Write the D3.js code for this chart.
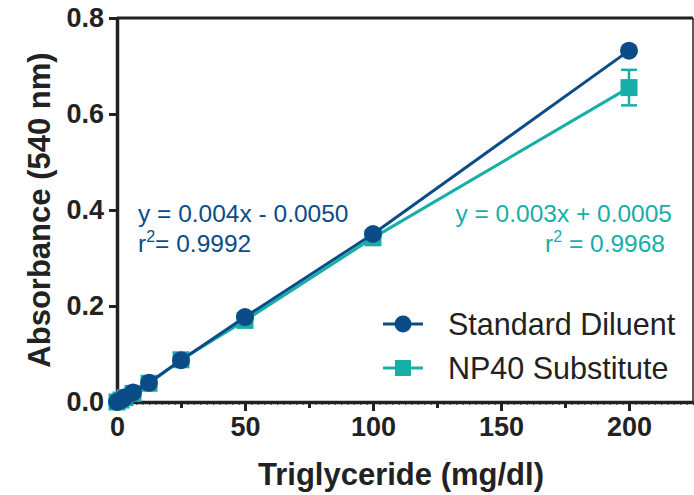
<!DOCTYPE html>
<html>
<head>
<meta charset="utf-8">
<script src="https://cdn.jsdelivr.net/npm/d3@7"></script>
<style>
  body { margin: 0; background: #fff; }
  text { font-family: "Liberation Sans", Arial, sans-serif; }
</style>
</head>
<body>
<div id="chart"></div>
<script>
"use strict";

// Data
const concentrations = [0, 1.5625, 3.125, 6.25, 12.5, 25, 50, 100, 200];
const standard_values = [0.0, 0.004, 0.01, 0.02, 0.04, 0.087, 0.177, 0.35, 0.732];
const np40_values = [0.0, 0.004, 0.009, 0.018, 0.039, 0.088, 0.170, 0.342, 0.655];
const np40_errors = [0, 0, 0, 0, 0, 0, 0.003, 0.004, 0.037];
const x_ticks = [0, 50, 100, 150, 200];
const y_ticks = [0.0, 0.2, 0.4, 0.6, 0.8];
const series_names = ["Standard Diluent", "NP40 Substitute"];

const width = 694, height = 495;
const margins = {top: 18, right: 1, bottom: 93, left: 117};
const plot_width = width - margins.left - margins.right;
const plot_height = height - margins.top - margins.bottom;

const dark = "#0b4c88";
const teal = "#16afa7";
const ink = "#222";

const x_scale = d3.scaleLinear().domain([0, 225]).range([0, plot_width]);
const y_scale = d3.scaleLinear().domain([0, 0.8]).range([plot_height, 0]);

const svg = d3.select("#chart").append("svg")
    .attr("width", width)
    .attr("height", height);

const g = svg.append("g")
    .attr("transform", "translate(" + margins.left + "," + margins.top + ")");

// Frame top and right
g.append("line").attr("x1", 0).attr("x2", plot_width).attr("y1", 0).attr("y2", 0)
    .attr("stroke", ink).attr("stroke-width", 3);
g.append("line").attr("x1", plot_width).attr("x2", plot_width).attr("y1", 0).attr("y2", plot_height)
    .attr("stroke", ink).attr("stroke-width", 1.5);

// Minor x ticks
const minor = d3.range(0, 226, 2.5);
g.append("g")
    .attr("transform", "translate(0," + plot_height + ")")
    .call(d3.axisBottom(x_scale).tickValues(minor).tickSize(3).tickFormat(""))
    .call(s => s.select(".domain").remove())
    .selectAll("line").attr("stroke", "#333").attr("stroke-width", 1);

// Medium x ticks at 25
g.append("g")
    .attr("transform", "translate(0," + plot_height + ")")
    .call(d3.axisBottom(x_scale).tickValues([25, 75, 125, 175]).tickSize(6).tickFormat(""))
    .call(s => s.select(".domain").remove())
    .selectAll("line").attr("stroke", ink).attr("stroke-width", 3);

// X axis
const x_axis = g.append("g")
    .attr("transform", "translate(0," + plot_height + ")")
    .call(d3.axisBottom(x_scale).tickValues(x_ticks).tickSize(9).tickSizeOuter(0).tickPadding(6));
x_axis.select(".domain").attr("stroke", ink).attr("stroke-width", 3.5);
x_axis.selectAll(".tick line").attr("stroke", ink).attr("stroke-width", 3);
x_axis.selectAll(".tick text")
    .attr("font-size", 27).attr("font-weight", "bold").attr("fill", ink)
    .style("font-family", "'Liberation Sans', Arial, sans-serif");

// Y axis
const y_axis = g.append("g")
    .call(d3.axisLeft(y_scale).tickValues(y_ticks).tickFormat(d3.format(".1f")).tickSize(8).tickSizeOuter(0).tickPadding(5));
y_axis.select(".domain").attr("stroke", ink).attr("stroke-width", 3.5);
y_axis.selectAll(".tick line").attr("stroke", ink).attr("stroke-width", 3);
y_axis.selectAll(".tick text")
    .attr("font-size", 27).attr("font-weight", "bold").attr("fill", ink)
    .style("font-family", "'Liberation Sans', Arial, sans-serif");

// Axis titles
svg.append("text")
    .attr("x", 401)
    .attr("y", 485)
    .attr("text-anchor", "middle")
    .attr("font-size", 31).attr("font-weight", "bold").attr("fill", ink)
    .text("Triglyceride (mg/dl)");

svg.append("text")
    .attr("transform", "translate(50," + (margins.top + plot_height / 2) + ") rotate(-90)")
    .attr("text-anchor", "middle")
    .attr("font-size", 31).attr("font-weight", "bold").attr("fill", ink)
    .text("Absorbance (540 nm)");

const line = d3.line()
    .x(d => x_scale(d[0]))
    .y(d => y_scale(d[1]));

const np40_points = concentrations.map((c, i) => [c, np40_values[i], np40_errors[i]]);
const std_points = concentrations.map((c, i) => [c, standard_values[i]]);

// NP40 series (drawn first, underneath)
g.append("path").datum(np40_points)
    .attr("d", line).attr("fill", "none").attr("stroke", teal).attr("stroke-width", 3);

const err = g.append("g").selectAll("g").data(np40_points.filter(d => d[2] > 0.01)).join("g");
err.append("line")
    .attr("x1", d => x_scale(d[0])).attr("x2", d => x_scale(d[0]))
    .attr("y1", d => y_scale(d[1] - d[2])).attr("y2", d => y_scale(d[1] + d[2]))
    .attr("stroke", teal).attr("stroke-width", 2.5);
[-1, 1].forEach(sign => {
    err.append("line")
        .attr("x1", d => x_scale(d[0]) - 8).attr("x2", d => x_scale(d[0]) + 8)
        .attr("y1", d => y_scale(d[1] + sign * d[2])).attr("y2", d => y_scale(d[1] + sign * d[2]))
        .attr("stroke", teal).attr("stroke-width", 2.5);
});

g.append("g").selectAll("rect").data(np40_points).join("rect")
    .attr("x", d => x_scale(d[0]) - 8.5)
    .attr("y", d => y_scale(d[1]) - 8.5)
    .attr("width", 17).attr("height", 17)
    .attr("fill", teal);

// Standard diluent series
g.append("path").datum(std_points)
    .attr("d", line).attr("fill", "none").attr("stroke", dark).attr("stroke-width", 3);

g.append("g").selectAll("circle").data(std_points).join("circle")
    .attr("cx", d => x_scale(d[0]))
    .attr("cy", d => y_scale(d[1]))
    .attr("r", 9)
    .attr("fill", dark);

// Equations
const eq_left = svg.append("g").attr("fill", dark).attr("font-size", 24.5);
eq_left.append("text").attr("x", 138).attr("y", 222).text("y = 0.004x - 0.0050");
const r_left = eq_left.append("text").attr("x", 138).attr("y", 252);
r_left.append("tspan").text("r");
r_left.append("tspan").attr("dy", -10).attr("font-size", 16).text("2");
r_left.append("tspan").attr("dy", 10).text("= 0.9992");

const eq_right = svg.append("g").attr("fill", teal).attr("font-size", 24.5).attr("text-anchor", "end");
eq_right.append("text").attr("x", 672).attr("y", 222).text("y = 0.003x + 0.0005");
const r_right = eq_right.append("text").attr("x", 665).attr("y", 252);
r_right.append("tspan").text("r");
r_right.append("tspan").attr("dy", -10).attr("font-size", 16).text("2");
r_right.append("tspan").attr("dy", 10).text(" = 0.9968");

// Legend
const legend = svg.append("g").attr("transform", "translate(383,324)");
const legend_items = legend.selectAll("g").data(series_names).join("g")
    .attr("transform", (d, i) => "translate(0," + i * 44 + ")");
legend_items.append("line")
    .attr("x1", 0).attr("x2", 40).attr("y1", 0).attr("y2", 0)
    .attr("stroke", (d, i) => i === 0 ? dark : teal).attr("stroke-width", 3);
legend_items.filter((d, i) => i === 0).append("circle")
    .attr("cx", 20).attr("cy", 0).attr("r", 8.5).attr("fill", dark);
legend_items.filter((d, i) => i === 1).append("rect")
    .attr("x", 12).attr("y", -8).attr("width", 16).attr("height", 16).attr("fill", teal);
legend_items.append("text")
    .attr("x", 65).attr("y", 11)
    .attr("font-size", 30.5).attr("fill", ink)
    .text(d => d);
</script>
</body>
</html>
